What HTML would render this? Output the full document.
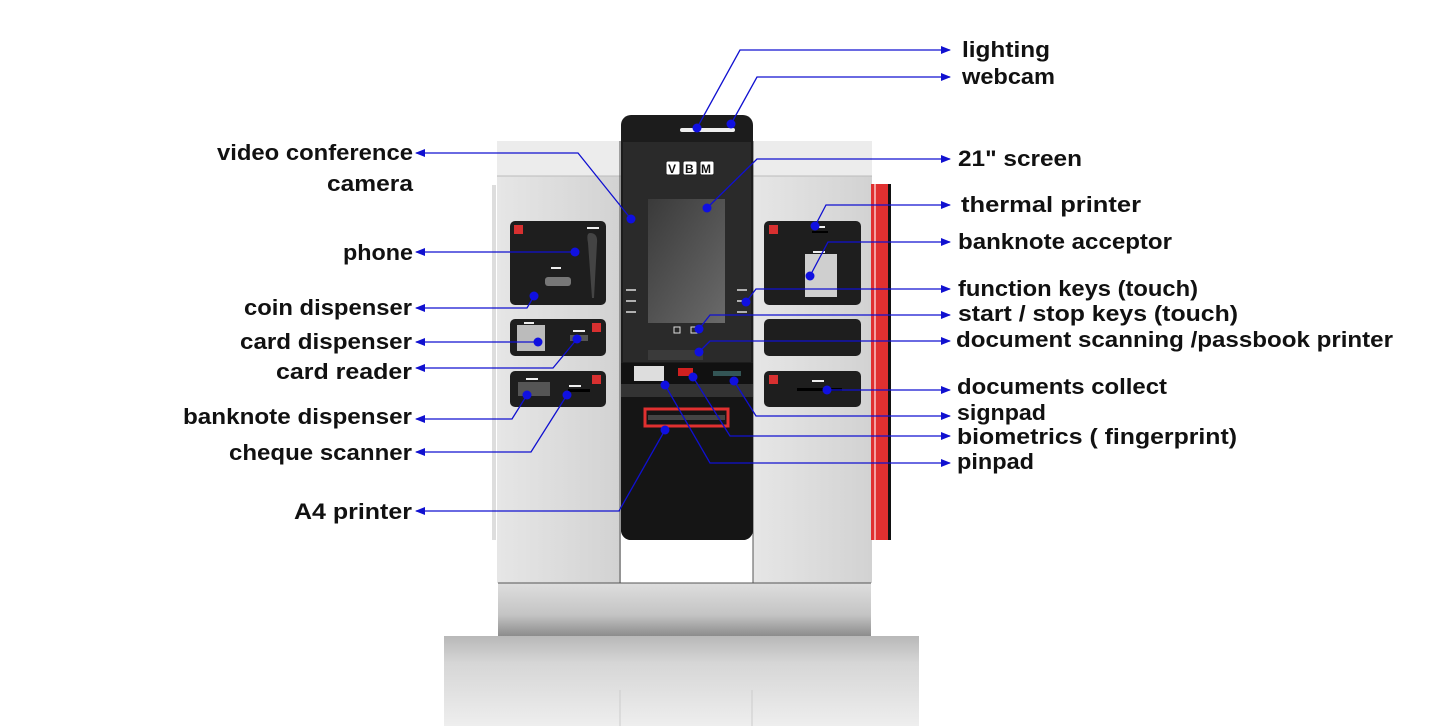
<!DOCTYPE html>
<html><head><meta charset="utf-8"><style>
html,body{margin:0;padding:0;background:#fff;}
svg{display:block}
text{font-family:"Liberation Sans",sans-serif;font-weight:bold;font-size:22px;fill:#111;}
</style></head><body>
<svg width="1453" height="726" viewBox="0 0 1453 726" xmlns="http://www.w3.org/2000/svg">
<defs>
<linearGradient id="ped" x1="0" y1="0" x2="0" y2="1"><stop offset="0" stop-color="#b8b8b8"/><stop offset="0.3" stop-color="#d6d6d6"/><stop offset="1" stop-color="#eeeeee"/></linearGradient>
<linearGradient id="base" x1="0" y1="0" x2="0" y2="1"><stop offset="0" stop-color="#dedede"/><stop offset="0.6" stop-color="#c4c4c4"/><stop offset="1" stop-color="#8c8c8c"/></linearGradient>
<linearGradient id="cab" x1="0" y1="0" x2="1" y2="0"><stop offset="0" stop-color="#e6e6e6"/><stop offset="1" stop-color="#d2d2d2"/></linearGradient>
<linearGradient id="scr" x1="0" y1="0" x2="1" y2="1"><stop offset="0" stop-color="#3a3a3a"/><stop offset="1" stop-color="#6a6a6a"/></linearGradient>
<marker id="ar" markerWidth="10" markerHeight="8" refX="9" refY="4" orient="auto" markerUnits="userSpaceOnUse"><path d="M0,0 L10,4 L0,8 z" fill="#1010d0"/></marker>
</defs>
<!-- pedestal -->
<rect x="444" y="636" width="475" height="90" fill="url(#ped)"/>
<line x1="620" y1="690" x2="620" y2="726" stroke="#ccc"/><line x1="752" y1="690" x2="752" y2="726" stroke="#ccc"/>
<!-- base band -->
<rect x="498" y="583" width="373" height="53" fill="url(#base)"/>
<!-- cabinets -->
<rect x="497" y="141" width="124" height="442" fill="url(#cab)"/>
<rect x="753" y="141" width="119" height="442" fill="url(#cab)"/>
<rect x="497" y="141" width="124" height="35" fill="#ececec"/>
<rect x="753" y="141" width="119" height="35" fill="#ececec"/>
<line x1="497" y1="176" x2="621" y2="176" stroke="#bbb"/><line x1="753" y1="176" x2="872" y2="176" stroke="#bbb"/>
<line x1="620" y1="141" x2="620" y2="583" stroke="#555"/><line x1="753" y1="141" x2="753" y2="583" stroke="#555"/>
<line x1="498" y1="583" x2="871" y2="583" stroke="#555"/>
<rect x="492" y="185" width="4" height="355" fill="#ddd"/>
<!-- red bar -->
<rect x="871" y="184" width="19" height="356" fill="#e03030"/>
<rect x="874" y="184" width="2" height="356" fill="#f4a0a0"/>
<rect x="888" y="184" width="3" height="356" fill="#111"/>
<!-- center column -->
<rect x="621" y="115" width="132" height="425" rx="10" fill="#1c1c1c"/>
<rect x="623" y="142" width="128" height="220" fill="#2a2a2a"/>
<rect x="648" y="199" width="77" height="124" fill="url(#scr)"/>
<rect x="648" y="115" width="0" height="0"/>
<rect x="680" y="128" width="55" height="4" rx="2" fill="#eee"/>
<g fill="#fff" stroke="#222" stroke-width="1"><rect x="666" y="161" width="14" height="14" rx="2"/><rect x="683" y="161" width="14" height="14" rx="2"/><rect x="700" y="161" width="14" height="14" rx="2"/></g>
<g font-size="11" style="font-size:11px"><text x="668" y="173" style="font-size:12px">V</text><text x="685" y="173" style="font-size:12px">B</text><text x="701" y="173" style="font-size:12px">M</text></g>
<g stroke="#ddd" stroke-width="1.5" fill="none"><path d="M626,290 h10 M626,301 h10 M626,312 h10 M737,290 h10 M737,301 h10 M737,312 h10"/></g>
<rect x="674" y="327" width="6" height="6" fill="none" stroke="#ddd"/><rect x="691" y="327" width="6" height="6" fill="none" stroke="#ddd"/>
<rect x="648" y="350" width="55" height="10" fill="#3a3a3a"/>
<rect x="621" y="363" width="132" height="21" fill="#111"/>
<rect x="634" y="366" width="30" height="15" fill="#ddd"/>
<rect x="678" y="368" width="15" height="8" fill="#d02020"/>
<rect x="713" y="371" width="28" height="5" fill="#355"/>
<rect x="621" y="384" width="132" height="13" fill="#333"/>
<path d="M621,397 h132 v133 a10,10 0 0 1 -10,10 h-112 a10,10 0 0 1 -10,-10 z" fill="#151515"/>
<rect x="645" y="409" width="83" height="17" fill="none" stroke="#e03030" stroke-width="3"/>
<rect x="648" y="415" width="77" height="5" fill="#444"/>
<!-- modules -->
<g fill="#1e1e1e">
<rect x="510" y="221" width="96" height="84" rx="5"/><rect x="510" y="319" width="96" height="37" rx="5"/><rect x="510" y="371" width="96" height="36" rx="5"/>
<rect x="764" y="221" width="97" height="84" rx="5"/><rect x="764" y="319" width="97" height="37" rx="5"/><rect x="764" y="371" width="97" height="36" rx="5"/>
</g>
<g fill="#d83030"><rect x="514" y="225" width="9" height="9"/><rect x="592" y="323" width="9" height="9"/><rect x="592" y="375" width="9" height="9"/><rect x="769" y="225" width="9" height="9"/><rect x="769" y="375" width="9" height="9"/></g>
<path d="M590,233 q8,0 7,10 l-3,55 h-2 l-4,-55 q-2,-10 2,-10z" fill="#444"/>
<rect x="545" y="277" width="26" height="9" rx="3" fill="#777"/>
<rect x="517" y="325" width="28" height="26" fill="#bbb"/>
<rect x="570" y="335" width="18" height="6" fill="#555"/>
<rect x="518" y="382" width="32" height="14" fill="#555"/>
<rect x="568" y="389" width="22" height="3" fill="#000"/>
<rect x="805" y="254" width="32" height="43" fill="#cfcfcf"/>
<rect x="812" y="231" width="16" height="2" fill="#000"/>
<rect x="797" y="388" width="45" height="3" fill="#000"/>
<g fill="#eee"><rect x="587" y="227" width="12" height="2"/><rect x="551" y="267" width="10" height="2"/><rect x="524" y="322" width="10" height="2"/><rect x="573" y="330" width="12" height="2"/><rect x="526" y="378" width="12" height="2"/><rect x="569" y="385" width="12" height="2"/><rect x="813" y="226" width="12" height="2"/><rect x="813" y="251" width="12" height="2"/><rect x="812" y="380" width="12" height="2"/></g>
<!-- connectors -->
<g stroke="#1010d0" stroke-width="1.3" fill="none" marker-end="url(#ar)">
<polyline points="697,128 740,50 950,50"/>
<polyline points="731,124 757,77 950,77"/>
<polyline points="707,208 757,159 950,159"/>
<polyline points="815,226 826,205 950,205"/>
<polyline points="810,276 828,242 950,242"/>
<polyline points="746,302 756,289 950,289"/>
<polyline points="699,329 710,315 950,315"/>
<polyline points="699,352 710,341 950,341"/>
<polyline points="827,390 950,390"/>
<polyline points="734,381 756,416 950,416"/>
<polyline points="693,377 730,436 950,436"/>
<polyline points="665,385 710,463 950,463"/>
<polyline points="631,219 578,153 416,153"/>
<polyline points="575,252 416,252"/>
<polyline points="534,296 527,308 416,308"/>
<polyline points="538,342 416,342"/>
<polyline points="577,339 553,368 416,368"/>
<polyline points="527,395 512,419 416,419"/>
<polyline points="567,395 531,452 416,452"/>
<polyline points="665,430 619,511 416,511"/>
</g>
<g fill="#1010e0">
<circle cx="697" cy="128" r="4.5"/><circle cx="731" cy="124" r="4.5"/><circle cx="707" cy="208" r="4.5"/><circle cx="815" cy="226" r="4.5"/><circle cx="810" cy="276" r="4.5"/><circle cx="746" cy="302" r="4.5"/><circle cx="699" cy="329" r="4.5"/><circle cx="699" cy="352" r="4.5"/><circle cx="827" cy="390" r="4.5"/><circle cx="734" cy="381" r="4.5"/><circle cx="693" cy="377" r="4.5"/><circle cx="665" cy="385" r="4.5"/><circle cx="631" cy="219" r="4.5"/><circle cx="575" cy="252" r="4.5"/><circle cx="534" cy="296" r="4.5"/><circle cx="538" cy="342" r="4.5"/><circle cx="577" cy="339" r="4.5"/><circle cx="527" cy="395" r="4.5"/><circle cx="567" cy="395" r="4.5"/><circle cx="665" cy="430" r="4.5"/>
</g>
<!-- labels right -->
<text x="962" y="57" textLength="88" lengthAdjust="spacingAndGlyphs">lighting</text>
<text x="962" y="84" textLength="93" lengthAdjust="spacingAndGlyphs">webcam</text>
<text x="958" y="166" textLength="124" lengthAdjust="spacingAndGlyphs">21" screen</text>
<text x="961" y="212" textLength="180" lengthAdjust="spacingAndGlyphs">thermal printer</text>
<text x="958" y="249" textLength="214" lengthAdjust="spacingAndGlyphs">banknote acceptor</text>
<text x="958" y="296" textLength="240" lengthAdjust="spacingAndGlyphs">function keys (touch)</text>
<text x="958" y="321" textLength="280" lengthAdjust="spacingAndGlyphs">start / stop  keys (touch)</text>
<text x="956" y="347" textLength="437" lengthAdjust="spacingAndGlyphs">document scanning /passbook printer</text>
<text x="957" y="394" textLength="210" lengthAdjust="spacingAndGlyphs">documents collect</text>
<text x="957" y="420" textLength="89" lengthAdjust="spacingAndGlyphs">signpad</text>
<text x="957" y="444" textLength="280" lengthAdjust="spacingAndGlyphs">biometrics ( fingerprint)</text>
<text x="957" y="469" textLength="77" lengthAdjust="spacingAndGlyphs">pinpad</text>
<!-- labels left -->
<g text-anchor="end">
<text x="413" y="160" textLength="196" lengthAdjust="spacingAndGlyphs">video conference</text>
<text x="413" y="191" textLength="86" lengthAdjust="spacingAndGlyphs">camera</text>
<text x="413" y="260" textLength="70" lengthAdjust="spacingAndGlyphs">phone</text>
<text x="412" y="315" textLength="168" lengthAdjust="spacingAndGlyphs">coin dispenser</text>
<text x="412" y="349" textLength="172" lengthAdjust="spacingAndGlyphs">card dispenser</text>
<text x="412" y="379" textLength="136" lengthAdjust="spacingAndGlyphs">card reader</text>
<text x="412" y="424" textLength="229" lengthAdjust="spacingAndGlyphs">banknote dispenser</text>
<text x="412" y="460" textLength="183" lengthAdjust="spacingAndGlyphs">cheque scanner</text>
<text x="412" y="519" textLength="118" lengthAdjust="spacingAndGlyphs">A4 printer</text>
</g>
</svg>
</body></html>
